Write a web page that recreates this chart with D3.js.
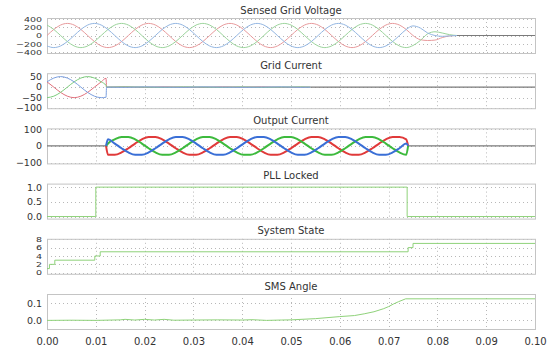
<!DOCTYPE html>
<html>
<head>
<meta charset="utf-8">
<script src="https://cdn.jsdelivr.net/npm/d3@7"></script>
<style>
body { margin: 0; background: #fff; }
text { font-family: "DejaVu Sans", sans-serif; fill: #333; }
</style>
</head>
<body>
<svg></svg>
<script>
// sample times (ms), one every 30 degrees of a 60 Hz cycle
const sampleMs = [0, 1.39, 2.78, 4.17, 5.56, 6.94, 8.33, 9.72, 11.11, 12.5, 13.89, 15.28, 16.67, 18.06,
	19.44, 20.83, 22.22, 23.61, 25, 26.39, 27.78, 29.17, 30.56, 31.94, 33.33, 34.72, 36.11, 37.5, 38.89,
	40.28, 41.67, 43.06, 44.44, 45.83, 47.22, 48.61, 50, 51.39, 52.78, 54.17, 55.56, 56.94, 58.33, 59.72,
	61.11, 62.5, 63.89, 65.28, 66.67, 68.06, 69.44, 70.83, 72.22, 73.61];

const xTickMs = [0, 10, 20, 30, 40, 50, 60, 70, 80, 90, 100];
const xTickLabels = ['0.00', '0.01', '0.02', '0.03', '0.04', '0.05', '0.06', '0.07', '0.08', '0.09', '0.10'];

// Sensed Grid Voltage
const voltTailMs = [75, 76.5, 78, 79.5, 81, 82.5, 84];
const voltRed = [
	0, 145, 251, 290, 251, 145, 0, -145, -251, -290, -251, -145,
	0, 145, 251, 290, 251, 145, 0, -145, -251, -290, -251, -145,
	0, 145, 251, 290, 251, 145, 0, -145, -251, -290, -251, -145,
	0, 145, 251, 290, 251, 145, 0, -145, -251, -290, -251, -145,
	0, 145, 251, 290, 251, 145,
	0, -100, -120, -110, -50, -10, 0];
const voltBlue = [
	-251, -290, -251, -145, 0, 145, 251, 290, 251, 145, 0, -145,
	-251, -290, -251, -145, 0, 145, 251, 290, 251, 145, 0, -145,
	-251, -290, -251, -145, 0, 145, 251, 290, 251, 145, 0, -145,
	-251, -290, -251, -145, 0, 145, 251, 290, 251, 145, 0, -145,
	-251, -290, -251, -145, 0, 145,
	230, 180, 60, 0, -20, -10, 0];
const voltGreen = [
	251, 145, 0, -145, -251, -290, -251, -145, 0, 145, 251, 290,
	251, 145, 0, -145, -251, -290, -251, -145, 0, 145, 251, 290,
	251, 145, 0, -145, -251, -290, -251, -145, 0, 145, 251, 290,
	251, 145, 0, -145, -251, -290, -251, -145, 0, 145, 251, 290,
	251, 145, 0, -145, -251, -290,
	-240, -120, 40, 90, 60, 20, 0];
const voltIdle = [[84, 100]];
const voltTicks = [400, 200, 0, -200, -400];

// Grid Current
const gridMs = [0, 1.39, 2.78, 4.17, 5.56, 6.94, 8.33, 9.72, 11.11, 12.1, 12.2,
	16, 20, 24, 28, 32, 36, 40, 44, 48, 52, 54];
const gridRed = [25, 0, -25, -43, -50, -43, -25, 0, 25, 42, 0, 1, -1, 1, 0, -1, 1, 0, 1, -1, 0, 0];
const gridBlue = [25, 43, 50, 43, 25, 0, -25, -43, -50, -48, 0, -1, 1, 0, -1, 1, 0, -1, 0, 1, -1, 0];
const gridGreen = [-50, -43, -25, 0, 25, 43, 50, 43, 25, 8, 0, 1, 0, -1, 1, 0, -1, 1, -1, 0, 1, 0];
const gridIdle = [[54, 100]];
const gridTicks = [50, 0, -50, -100];

// Output Current
const outMs = [12.1].concat(sampleMs.slice(9), [74]);
const outRed = [0,
	-53, -53, -39, -14, 14, 39, 53, 53, 39, 14, -14, -39,
	-53, -53, -39, -14, 14, 39, 53, 53, 39, 14, -14, -39,
	-53, -53, -39, -14, 14, 39, 53, 53, 39, 14, -14, -39,
	-53, -53, -39, -14, 14, 39, 53, 53, 39, 0];
const outGreen = [0,
	14, 39, 53, 53, 39, 14, -14, -39, -53, -53, -39, -14,
	14, 39, 53, 53, 39, 14, -14, -39, -53, -53, -39, -14,
	14, 39, 53, 53, 39, 14, -14, -39, -53, -53, -39, -14,
	14, 39, 53, 53, 39, 14, -14, -39, -53, 0];
const outBlue = [0,
	39, 14, -14, -39, -53, -53, -39, -14, 14, 39, 53, 53,
	39, 14, -14, -39, -53, -53, -39, -14, 14, 39, 53, 53,
	39, 14, -14, -39, -53, -53, -39, -14, 14, 39, 53, 53,
	39, 14, -14, -39, -53, -53, -39, -14, 14, 0];
const outIdle = [[0, 12.1], [74, 100]];
const outTicks = [100, 0, -100];

// PLL Locked
const pllMs = [0, 10, 73.8, 100];
const pllVal = [0, 1, 0, 0];
const pllTicks = [1.0, 0.5, 0.0];

// System State
const stateMs = [0, 0.5, 1.6, 9.8, 10.9, 74, 75, 100];
const stateVal = [1, 2, 3, 4, 5, 6, 7, 7];
const stateTicks = [8, 6, 4, 2, 0];

// SMS Angle
const smsMs = [0, 5, 10, 15, 16, 18, 20, 22, 24, 26, 30, 35, 40, 42, 45, 48, 50, 55, 60, 63, 65, 67, 69, 70, 71, 72, 73.5, 100];
const smsVal = [0, 0.001, 0, 0.003, 0.006, 0.002, 0.006, 0.002, 0.006, 0.001, 0.002, 0.003, 0.002, 0.004, 0, 0.002, 0.003,
	0.01, 0.022, 0.028, 0.038, 0.05, 0.068, 0.08, 0.095, 0.108, 0.125, 0.125];
const smsTicks = [0.1, 0.0];

const width = 554, height = 353;
const svg = d3.select('svg').attr('width', width).attr('height', height);

const plotLeft = 47, plotRight = 535, firstTop = 18, panelStep = 55.2, plotH = 35;

const x = d3.scaleLinear().domain([0, 100]).range([plotLeft, plotRight]);

const lightGreen = '#8fd27a';
const pts = (t, v) => t.map((d, i) => [d, v[i]]);

// squash: vertical scale of the y tick labels (the crowded axes are squeezed in the original)
const panels = [
	{ title: 'Sensed Grid Voltage', domain: [-420, 420], ticks: voltTicks, fmt: d3.format('d'), idle: voltIdle, squash: 0.72,
		series: [
			{ d: pts(sampleMs.concat(voltTailMs), voltRed), color: '#e89a9c', w: 1 },
			{ d: pts(sampleMs.concat(voltTailMs), voltGreen), color: '#9bd49b', w: 1 },
			{ d: pts(sampleMs.concat(voltTailMs), voltBlue), color: '#93b6e2', w: 1 }
		] },
	{ title: 'Grid Current', domain: [-100, 66], ticks: gridTicks, fmt: d3.format('d'), idle: gridIdle, squash: 0.9,
		series: [
			{ d: pts(gridMs, gridRed), color: '#e0707c', w: 1 },
			{ d: pts(gridMs, gridGreen), color: '#7ccc7c', w: 1 },
			{ d: pts(gridMs, gridBlue), color: '#7a9ede', w: 1 }
		] },
	{ title: 'Output Current', domain: [-104, 104], ticks: outTicks, fmt: d3.format('d'), idle: outIdle, squash: 1,
		series: [
			{ d: pts(outMs, outRed), color: '#e03a3a', w: 2 },
			{ d: pts(outMs, outGreen), color: '#3dba3d', w: 2 },
			{ d: pts(outMs, outBlue), color: '#3a6fd6', w: 2 }
		] },
	{ title: 'PLL Locked', domain: [-0.07, 1.12], ticks: pllTicks, fmt: d3.format('.1f'), idle: [], step: true, squash: 1,
		series: [{ d: pts(pllMs, pllVal), color: lightGreen, w: 1 }] },
	{ title: 'System State', domain: [-0.25, 8.1], ticks: stateTicks, fmt: d3.format('d'), idle: [], step: true, squash: 0.68,
		series: [{ d: pts(stateMs, stateVal), color: lightGreen, w: 1 }] },
	{ title: 'SMS Angle', domain: [-0.05, 0.153], ticks: smsTicks, fmt: d3.format('.1f'), idle: [], linear: true, squash: 1,
		series: [{ d: pts(smsMs, smsVal), color: lightGreen, w: 1 }] }
];

panels.forEach((p, i) => {
	const top = firstTop + i * panelStep;
	const y = d3.scaleLinear().domain(p.domain).range([top + plotH, top]);
	const g = svg.append('g');

	g.append('clipPath').attr('id', 'clip' + i)
		.append('rect')
		.attr('x', plotLeft).attr('y', top)
		.attr('width', plotRight - plotLeft).attr('height', plotH);

	// dotted grid
	g.selectAll('.hgrid').data(p.ticks).join('line')
		.attr('x1', plotLeft).attr('x2', plotRight)
		.attr('y1', d => Math.round(y(d)) + 0.5).attr('y2', d => Math.round(y(d)) + 0.5)
		.attr('stroke', '#b8b8b8').attr('stroke-dasharray', '1,3');
	g.selectAll('.vgrid').data(xTickMs.slice(1, -1)).join('line')
		.attr('x1', d => Math.round(x(d)) + 0.5).attr('x2', d => Math.round(x(d)) + 0.5)
		.attr('y1', top).attr('y2', top + plotH)
		.attr('stroke', '#b8b8b8').attr('stroke-dasharray', '1,3');

	g.append('rect')
		.attr('x', plotLeft + 0.5).attr('y', top + 0.5)
		.attr('width', plotRight - plotLeft).attr('height', plotH)
		.attr('fill', 'none').attr('stroke', '#c4c4c4');

	const line = d3.line()
		.x(d => x(d[0]))
		.y(d => y(d[1]))
		.curve(p.step ? d3.curveStepAfter : p.linear ? d3.curveLinear : d3.curveMonotoneX);

	const lines = g.append('g').attr('clip-path', `url(#clip${i})`);

	lines.selectAll('.idle').data(p.idle).join('path')
		.attr('d', d => line([[d[0], 0], [d[1], 0]]))
		.attr('fill', 'none').attr('stroke', '#7a7a7a').attr('stroke-width', 1.2);

	lines.selectAll('.series').data(p.series).join('path')
		.attr('d', s => line(s.d))
		.attr('fill', 'none')
		.attr('stroke', s => s.color)
		.attr('stroke-width', s => s.w);

	const yAxis = d3.axisLeft(y)
		.tickValues(p.ticks)
		.tickFormat(p.fmt)
		.tickSize(0)
		.tickPadding(5);
	const yAxisG = g.append('g')
		.attr('transform', `translate(${plotLeft}, 0)`)
		.call(yAxis);
	yAxisG.select('.domain').remove();
	yAxisG.selectAll('text')
		.attr('font-size', 9.5)
		.attr('font-family', null)
		.attr('fill', '#333')
		.attr('transform', `scale(1, ${p.squash})`);

	g.append('text')
		.attr('x', (plotLeft + plotRight) / 2)
		.attr('y', top - 4.5)
		.attr('text-anchor', 'middle')
		.attr('font-size', 10)
		.text(p.title);

	if (i === panels.length - 1) {
		const xAxis = d3.axisBottom(x)
			.tickValues(xTickMs)
			.tickFormat((d, k) => xTickLabels[k])
			.tickSize(0)
			.tickPadding(9);
		const xAxisG = g.append('g')
			.attr('transform', `translate(0, ${top + plotH})`)
			.call(xAxis);
		xAxisG.select('.domain').remove();
		xAxisG.selectAll('text').attr('font-size', 10).attr('font-family', null).attr('fill', '#333');
	}
});
</script>
</body>
</html>
